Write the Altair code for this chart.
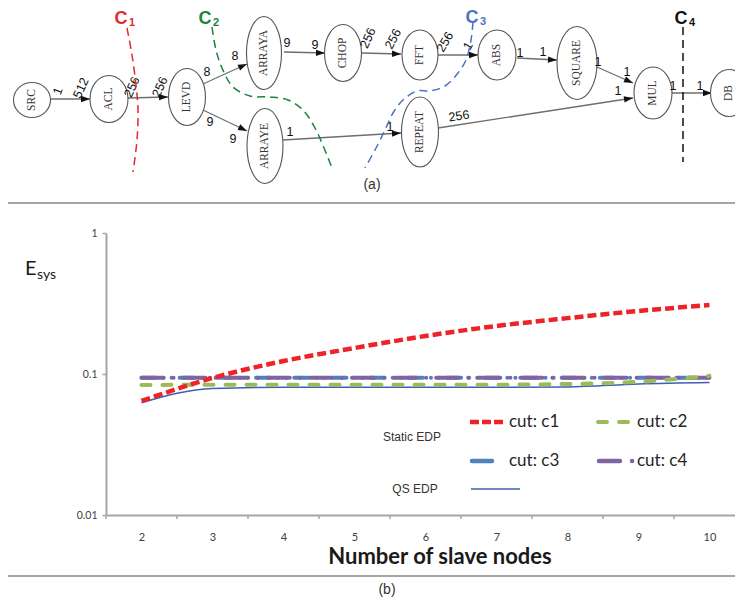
import altair as alt
import pandas as pd

# ---------------- chart (b) data ----------------
slave_nodes = [2, 3, 4, 5, 6, 7, 8, 9, 10]
cut_c1 = [0.0644, 0.0937, 0.1236, 0.1528, 0.186, 0.219, 0.249, 0.280, 0.308]
cut_c2 = [0.0835, 0.084, 0.084, 0.084, 0.084, 0.084, 0.085, 0.088, 0.097]
cut_c3 = [0.094, 0.094, 0.094, 0.094, 0.094, 0.094, 0.094, 0.094, 0.094]
cut_c4 = [0.094, 0.094, 0.094, 0.094, 0.094, 0.094, 0.094, 0.094, 0.094]
qs_edp = [0.0625, 0.079, 0.0805, 0.0805, 0.0805, 0.0805, 0.081, 0.085, 0.087]
y_tick_values = [0.01, 0.1, 1]
x_tick_bounds = [1.5, 2.5, 3.5, 4.5, 5.5, 6.5, 7.5, 8.5, 9.5]

# ---------------- diagram (a) data ----------------
node_names = ["SRC", "ACL", "LEVD", "ARRAYA", "ARRAYE", "CHOP", "FFT", "ABS",
              "SQUARE", "REPEAT", "MUL", "DB"]
node_x = [32, 109, 187, 264, 265, 343, 420, 497, 577, 420, 653, 729]
node_y = [100, 99, 97, 53, 146, 53, 55, 55, 63, 132, 93, 93]
node_w = [37, 38, 37, 35, 36, 37, 36, 38, 40, 37, 38, 37]
node_h = [35, 47, 57, 73, 75, 57, 50, 50, 73, 70, 52, 47]

edge_x1 = [50, 128, 203, 203, 284, 283, 362, 438, 517, 597, 438, 672]
edge_y1 = [99, 98, 84, 110, 52, 140, 53, 55, 58, 67, 128, 93]
edge_x2 = [90, 168, 247, 247, 325, 401, 401, 478, 557, 633, 633, 712]
edge_y2 = [99, 97, 64, 131, 53, 133, 54, 55, 60, 83, 98, 93]

elabel_text = ["1", "512", "256", "256", "8", "8", "9", "9", "9", "9", "256", "256",
               "256", "1", "1", "1", "1", "1", "1", "256", "1", "1", "1", "1"]
elabel_x = [58, 81, 132, 160, 207, 235, 210, 233, 287, 315, 368, 393,
            445, 468, 520, 543, 598, 627, 618, 459, 290, 390, 673, 700]
elabel_y = [91, 88, 87, 87, 72, 56, 122, 139, 43, 45, 38, 39,
            42, 46, 53, 52, 62, 72, 91, 116, 132, 127, 86, 86]
elabel_angle = [290, 295, 295, 295, 0, 0, 0, 0, 0, 0, 295, 298,
                300, 300, 0, 0, 0, 0, 0, 352, 0, 0, 0, 0]

cut_ids = ["1", "2", "3", "4"]
cut_colors = ["#E8262C", "#17853A", "#4A72C0", "#111111"]
cut1_x = [127, 132, 136, 138, 137, 133]
cut1_y = [28, 55, 85, 110, 140, 172]
cut2_x = [212, 216, 222, 233, 250, 270, 288, 303, 315, 324, 332]
cut2_y = [27, 50, 68, 87, 96, 97, 100, 110, 128, 148, 168]
cut3_x = [473, 471, 466, 458, 445, 430, 417, 403, 393, 385, 375, 365]
cut3_y = [22, 40, 60, 73, 86, 91, 91, 100, 113, 130, 150, 168]
cut4_x = [683, 683]
cut4_y = [27, 162]
cut_label_x = [121, 205, 472, 681]
cut_label_y = [19, 19, 18, 19]
cut_sub_x = [132, 216, 483, 692]
cut_sub_y = [23, 23, 22, 23]

captions = ["(a)", "(b)"]
caption_x = [372, 387]
caption_y = [185, 590]

# ---------------- build tables ----------------
series_names = ["c1", "c2", "c3", "c4", "qs"]
lines_df = pd.DataFrame({
    "n": slave_nodes * 5,
    "v": cut_c1 + cut_c2 + cut_c3 + cut_c4 + qs_edp,
    "s": sum([[s] * len(slave_nodes) for s in series_names], []),
})
ticks_df = pd.DataFrame({"n": x_tick_bounds})
one = pd.DataFrame({"k": [0]})

nodes_df = pd.DataFrame({"name": node_names, "x": node_x, "y": node_y,
                         "w": node_w, "h": node_h})
nodes_df["path"] = [
    f"M0,-1A{w / h:.4f},1 0 1,1 0,1A{w / h:.4f},1 0 1,1 0,-1Z"
    for w, h in zip(node_w, node_h)
]
nodes_df["size"] = [h * h for h in node_h]
edges_df = pd.DataFrame({"x1": edge_x1, "y1": edge_y1, "x2": edge_x2, "y2": edge_y2})
elabels_df = pd.DataFrame({"t": elabel_text, "x": elabel_x, "y": elabel_y,
                           "a": elabel_angle})
cut_rows = []
for cid, xs, ys in zip(cut_ids, [cut1_x, cut2_x, cut3_x, cut4_x],
                       [cut1_y, cut2_y, cut3_y, cut4_y]):
    for i, (xx, yy) in enumerate(zip(xs, ys)):
        cut_rows.append({"cut": cid, "o": i, "x": xx, "y": yy})
cuts_df = pd.DataFrame(cut_rows)
cut_lab_df = pd.DataFrame({"cut": cut_ids, "x": cut_label_x, "y": cut_label_y,
                           "sx": cut_sub_x, "sy": cut_sub_y})
cap_df = pd.DataFrame({"t": captions, "x": caption_x, "y": caption_y})

# ---------------- diagram layers ----------------
dxs = alt.Scale(domain=[106, 735], nice=False, zero=False)
dys = alt.Scale(domain=[233, 515], reverse=True, nice=False, zero=False)
cut_color = alt.Color("cut:N", scale=alt.Scale(domain=cut_ids, range=cut_colors),
                      legend=None)


def DX(f):
    return alt.X(f, scale=dxs, axis=None)


def DY(f):
    return alt.Y(f, scale=dys, axis=None)


edges = alt.Chart(edges_df).mark_rule(color="#6e6e6e", strokeWidth=1.3).encode(
    x=DX("x1:Q"), y=DY("y1:Q"), x2="x2:Q", y2="y2:Q")
arrows = alt.Chart(edges_df).transform_calculate(
    ang="(atan2(datum.y2 - datum.y1, datum.x2 - datum.x1) * 180 / PI + 360) % 360"
).mark_point(shape="M0,0L-2,-0.7L-2,0.7Z", size=81, filled=True, color="#111111",
             opacity=1).encode(
    x=DX("x2:Q"), y=DY("y2:Q"), angle=alt.Angle("ang:Q", scale=None))
nodes = alt.Chart(nodes_df).mark_point(filled=True, fill="white", stroke="#555555",
                                       strokeWidth=1.1, opacity=1).encode(
    x=DX("x:Q"), y=DY("y:Q"),
    shape=alt.Shape("path:N", scale=None),
    size=alt.Size("size:Q", scale=None))
node_text = alt.Chart(nodes_df).mark_text(angle=270, font="Liberation Serif",
                                          fontSize=11.5, color="#333333").encode(
    x=DX("x:Q"), y=DY("y:Q"), text="name:N")
edge_text = alt.Chart(elabels_df).mark_text(font="Liberation Sans", fontSize=12.5,
                                            color="#111111").encode(
    x=DX("x:Q"), y=DY("y:Q"), text="t:N", angle=alt.Angle("a:Q", scale=None))
cut_lines = alt.Chart(cuts_df).mark_line(strokeDash=[8, 5], strokeWidth=1.5,
                                         interpolate="catmull-rom").encode(
    x=DX("x:Q"), y=DY("y:Q"), color=cut_color, order="o:Q")
cut_c = alt.Chart(cut_lab_df).mark_text(font="Liberation Sans", fontWeight="bold",
                                        fontSize=18).encode(
    x=DX("x:Q"), y=DY("y:Q"), text=alt.value("C"), color=cut_color)
cut_sub = alt.Chart(cut_lab_df).mark_text(font="Liberation Sans", fontWeight="bold",
                                          fontSize=11).encode(
    x=DX("sx:Q"), y=DY("sy:Q"), text="cut:N", color=cut_color)
caption_text = alt.Chart(cap_df).mark_text(font="Liberation Sans", fontSize=14,
                                           color="#333333").encode(
    x=DX("x:Q"), y=DY("y:Q"), text="t:N")

diagram = alt.layer(edges, arrows, nodes, node_text, edge_text, cut_lines, cut_c,
                    cut_sub, caption_text)

# ---------------- plot layers ----------------
GRAY = "#A6A6A6"
x_scale = alt.Scale(domain=[1.5, 10.36], nice=False, zero=False)
y_scale = alt.Scale(type="log", domain=[0.01, 1], nice=False)
x_axis = alt.Axis(values=slave_nodes, format="d", ticks=False, grid=False,
                  domainColor=GRAY, domainWidth=2, labelFont="Lato", labelFontSize=11,
                  labelColor="#404040", labelPadding=16, labelAngle=0, title=None)
y_axis = alt.Axis(values=y_tick_values, format="~g", grid=False, domainColor=GRAY,
                  domainWidth=2, tickColor=GRAY, tickSize=4, tickWidth=1.5,
                  labelFont="Lato", labelFontSize=10.5, labelColor="#404040",
                  labelPadding=5, title=None)


def series(name, **mark):
    return alt.Chart(lines_df).transform_filter(alt.datum.s == name).mark_line(
        interpolate="monotone", **mark).encode(
        x=alt.X("n:Q", scale=x_scale, axis=x_axis),
        y=alt.Y("v:Q", scale=y_scale, axis=y_axis))


frame = alt.Chart(one).mark_rect(filled=False, color=GRAY, strokeWidth=2).encode(
    x=alt.value(-99), x2=alt.value(640), y=alt.value(-30), y2=alt.value(343))
xticks = alt.Chart(ticks_df).mark_rule(color=GRAY, strokeWidth=1.5).encode(
    x=alt.X("n:Q", scale=x_scale, axis=x_axis), y=alt.value(282), y2=alt.value(286))

l_qs = series("qs", color="#3F5FB0", strokeWidth=1.5)
l_c3 = series("c3", color="#4F81BD", strokeWidth=4, strokeCap="round",
              strokeDash=[14, 8, 0.1, 8, 0.1, 8])
l_c4 = series("c4", color="#8064A2", strokeWidth=4, strokeCap="round",
              strokeDash=[22, 10, 0.1, 10])
l_c2 = series("c2", color="#9BBB59", strokeWidth=4, strokeCap="round",
              strokeDash=[9, 12])
l_c1 = series("c1", color="#EE2229", strokeWidth=4.5, strokeDash=[9, 4])


def rule(x1, x2, y, **mark):
    return alt.Chart(one).mark_rule(**mark).encode(
        x=alt.value(x1), x2=alt.value(x2), y=alt.value(y))


def label(txt, x, y, **mark):
    return alt.Chart(one).mark_text(**mark).encode(
        x=alt.value(x), y=alt.value(y), text=alt.value(txt))


leg_font = dict(font="Lato", fontSize=17, color="#262626", align="left")
legend = [
    rule(364, 397, 189, color="#EE2229", strokeWidth=4.5, strokeDash=[9, 3]),
    rule(492, 524, 189, color="#9BBB59", strokeWidth=4, strokeCap="round",
         strokeDash=[9, 12]),
    rule(366, 386, 228, color="#4F81BD", strokeWidth=4.5, strokeCap="round"),
    rule(493, 528, 228, color="#8064A2", strokeWidth=4.5, strokeCap="round",
         strokeDash=[21, 12, 0.1, 20]),
    rule(365, 414, 256, color="#3F5FB0", strokeWidth=1.5),
    label("cut: c1", 403, 189, **leg_font),
    label("cut: c2", 531, 189, **leg_font),
    label("cut: c3", 403, 228, **leg_font),
    label("cut: c4", 531, 228, **leg_font),
    label("Static EDP", 306, 204, font="Liberation Sans", fontSize=12, color="#333333"),
    label("QS EDP", 309, 256, font="Liberation Sans", fontSize=12, color="#333333"),
]
titles = [
    label("E", -81, 42, font="Lato", fontSize=20, color="#1a1a1a", align="left",
          baseline="alphabetic"),
    label("sys", -69, 46, font="Lato", fontSize=14, color="#1a1a1a", align="left",
          baseline="alphabetic"),
    label("Number of slave nodes", 334, 324, font="Lato", fontSize=22,
          fontWeight="bold", color="#1a1a1a"),
]

plot = alt.layer(frame, xticks, l_qs, l_c3, l_c4, l_c2, l_c1, *legend, *titles)

chart = alt.layer(diagram, plot).resolve_scale(
    x="independent", y="independent"
).properties(
    width=629, height=282,
    padding={"left": 98, "top": 225, "right": 0, "bottom": 82},
    autosize=alt.AutoSizeParams(type="none"),
).configure_view(stroke=None)

chart.save("out.html", embed_options={"renderer": "svg", "actions": False})
